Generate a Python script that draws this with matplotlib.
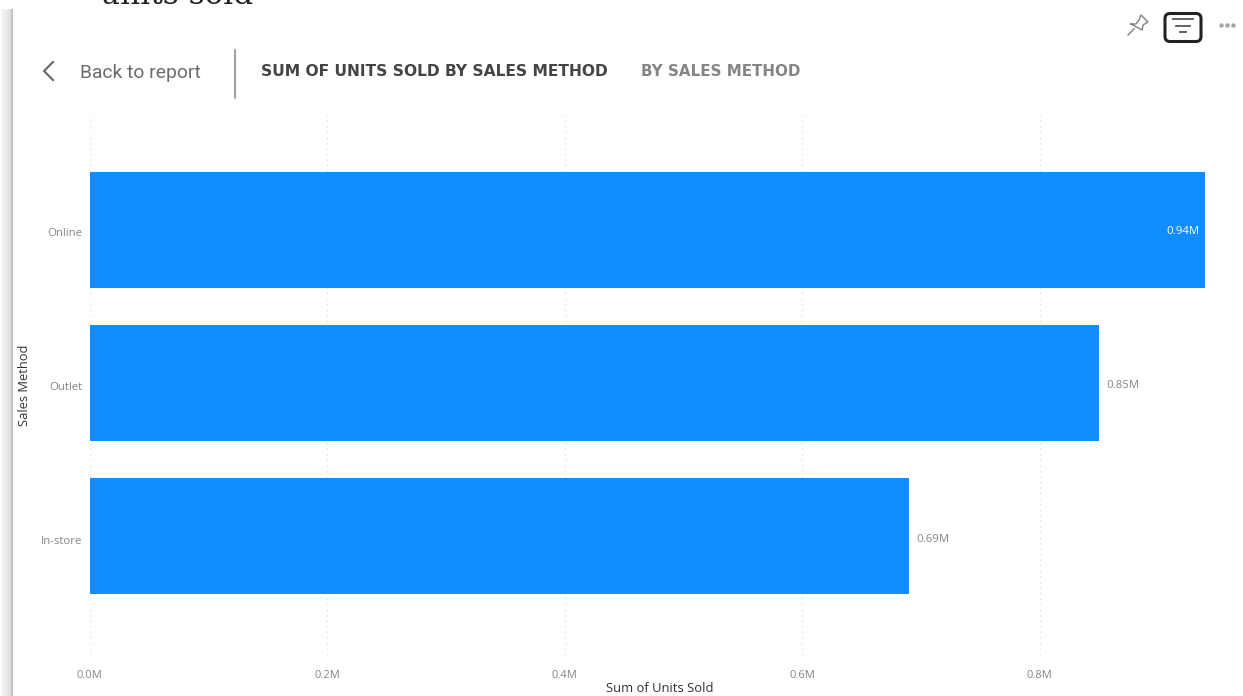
import matplotlib
matplotlib.use("Agg")
import matplotlib.pyplot as plt
from matplotlib.patches import FancyBboxPatch, Rectangle
from matplotlib.lines import Line2D
from matplotlib.transforms import ScaledTranslation

W, H = 1243, 696

# data
methods = ['Online', 'Outlet', 'In-store']
units_sold = [0.94, 0.85, 0.69]
bar_labels = ['0.94M', '0.85M', '0.69M']
x_ticks = [0.0, 0.2, 0.4, 0.6, 0.8]
x_tick_labels = ['0.0M', '0.2M', '0.4M', '0.6M', '0.8M']

BLUE = '#118DFF'
GREY = '#858585'

plt.rcParams['font.family'] = ['Open Sans', 'DejaVu Sans']

fig = plt.figure(figsize=(W / 100, H / 100), dpi=100, facecolor='white')

# everything outside the plot is placed in pixels, from the top left
bg = fig.add_axes([0, 0, 1, 1])
bg.set_xlim(0, W)
bg.set_ylim(H, 0)
bg.axis('off')

# left panel shadow
for i, c in enumerate(['#f6f6f6', '#f4f4f4', '#f2f2f2', '#f0f0f0', '#eeeeee', '#ebebeb',
                       '#e8e8e8', '#e4e4e4', '#e0e0e0', '#d8d8d8', '#c8c8c8', '#c0c0c0']):
    bg.add_patch(Rectangle((i + 1, 9), 1, H - 9, fc=c, ec='none'))

# clipped title of the page behind
bg.text(100, 4, 'units sold', family='DejaVu Serif', fontsize=22.5, color='#222222',
        ha='left', va='baseline', clip_on=True)

# header of the focus mode
bg.add_line(Line2D([53, 44, 53], [62, 71, 80], color='#666666', lw=1.5))
bg.text(80, 72.5, 'Back to report', fontsize=13.9, color='#6b6b6b', ha='left', va='center', family='Roboto')
bg.add_line(Line2D([235.5, 235.5], [50, 98], color='#8c8c8c', lw=1.2))
bg.text(261, 71, 'SUM OF UNITS SOLD BY SALES METHOD', fontsize=11.2, color='#444444',
        ha='left', va='center', family='DejaVu Sans', fontweight='bold')
bg.text(641, 71, 'BY SALES METHOD', fontsize=10.9, color='#858585', ha='left', va='center',
        family='DejaVu Sans', fontweight='bold')

# pin icon
bg.add_line(Line2D([1128, 1134], [35, 29], color='#808080', lw=1))
bg.add_line(Line2D([1131, 1136, 1139, 1141, 1148, 1143, 1142, 1131],
                   [24, 24, 20, 15, 22, 25, 30, 24], color='#808080', lw=1))

# filter icon
bg.add_patch(FancyBboxPatch((1165, 13.5), 36, 28, boxstyle='round,pad=0,rounding_size=5',
                            fc='white', ec='#222222', lw=2.2))
bg.add_line(Line2D([1173, 1193], [19, 19], color='#555555', lw=1.3))
bg.add_line(Line2D([1176, 1190], [25.5, 25.5], color='#555555', lw=1.3))
bg.add_line(Line2D([1180, 1186], [32, 32], color='#555555', lw=1.3))

# three dots
bg.plot([1221, 1227, 1233], [25, 25, 25], ls='none', marker='o', ms=2.2, color='#a5a5a5')

# plot area: x from 89.5 to 1205, y from 115 to 655
ax = fig.add_axes([89.5 / W, 1 - 655 / H, (1205 - 89.5) / W, (655 - 115) / H])
ax.patch.set_alpha(0)
ypos = list(range(len(methods)))
ax.barh(ypos, units_sold, height=0.76, color=BLUE, zorder=3)
ax.set_xlim(0, 0.939)
ax.set_ylim(2.775, -0.75)

ax.set_xticks(x_ticks)
ax.set_xticklabels(x_tick_labels, fontsize=8, color=GREY)
ax.set_yticks(ypos)
ax.set_yticklabels(methods, fontsize=8.2, color=GREY)
ax.tick_params(axis='both', length=0)
ax.tick_params(axis='x', pad=11)
ax.tick_params(axis='y', pad=5)
ax.grid(axis='x', color='#e2e2e2', ls=(0, (1, 3)), lw=1, zorder=0)
ax.set_axisbelow(True)
for s in ax.spines.values():
    s.set_visible(False)

# category labels sit a bit under the bar centre in the reference
shifts = [2, 3, 4]
for lab, sh in zip(ax.get_yticklabels(), shifts):
    lab.set_transform(lab.get_transform() + ScaledTranslation(0, -sh / 100, fig.dpi_scale_trans))

ax.set_xlabel('Sum of Units Sold', fontsize=9.4, color='#333333')
ax.set_ylabel('Sales Method', fontsize=9.3, color='#333333')
ax.xaxis.set_label_coords(0.511, -0.0505)
ax.yaxis.set_label_coords(-0.0524, 0.5)

# the value that does not fit outside goes inside the bar
label_shift = [-2, -2, -3]
for i, (v, lab) in enumerate(zip(units_sold, bar_labels)):
    if v > 0.9:
        ax.annotate(lab, (v, i), xytext=(-7, label_shift[i]), textcoords='offset pixels', fontsize=8.2,
                    color='white', ha='right', va='center', annotation_clip=False, zorder=4)
    else:
        ax.annotate(lab, (v, i), xytext=(7, label_shift[i]), textcoords='offset pixels', fontsize=8.2,
                    color=GREY, ha='left', va='center', zorder=4)

fig.savefig('out.png', dpi=100)
